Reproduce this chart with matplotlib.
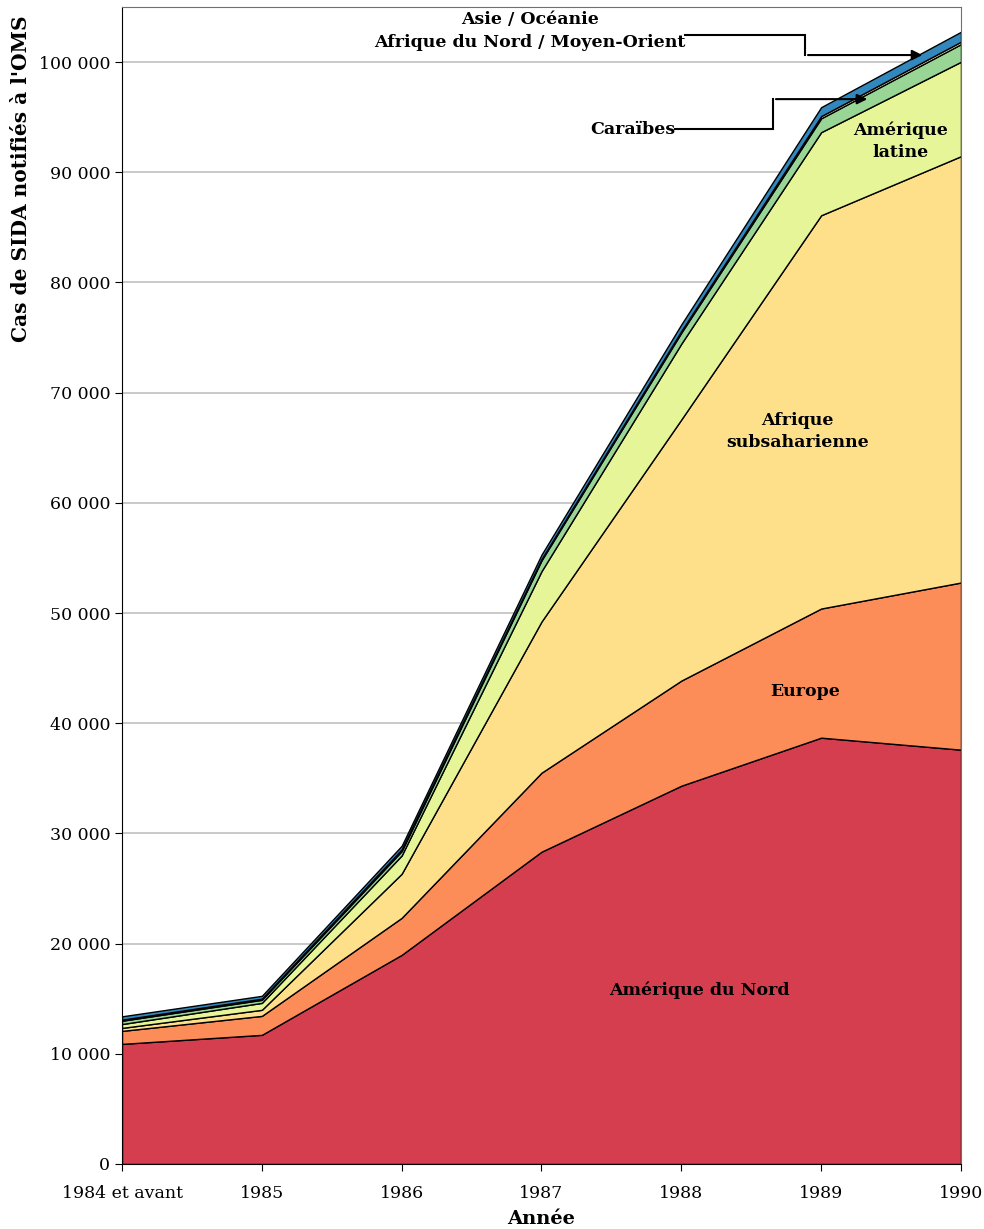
import matplotlib
matplotlib.use("Agg")
import matplotlib.pyplot as plt
from matplotlib.ticker import FuncFormatter

years = ["1984 et avant", "1985", "1986", "1987", "1988", "1989", "1990"]

amerique_nord = [10900, 11720, 18980, 28340, 34330, 38690, 37600]
europe = [1180, 1720, 3360, 7170, 9540, 11720, 15170]
afrique_subsaharienne = [270, 550, 4000, 13720, 23700, 35690, 38690]
amerique_latine = [350, 630, 1660, 4570, 6880, 7540, 8570]
caraibes = [300, 280, 400, 980, 1000, 1260, 1600]
afrique_nord_moyen_orient = [100, 100, 150, 120, 150, 200, 220]
asie_oceanie = [300, 260, 330, 400, 600, 810, 900]

series = [amerique_nord, europe, afrique_subsaharienne, amerique_latine,
          caraibes, afrique_nord_moyen_orient, asie_oceanie]
colors = ["#d53e4f", "#fc8d59", "#fee08b", "#e6f598", "#99d594", "#ffffbf", "#3288bd"]

plt.rcParams["font.family"] = ["DejaVu Serif"]

fig = plt.figure(figsize=(9.84, 12.29), dpi=100)
ax = fig.add_axes([0.124, 0.0529, 0.8526, 0.9414])

x = list(range(len(years)))
ax.stackplot(x, *series, colors=colors, edgecolor="black", linewidth=1.0, zorder=2)

ax.set_xlim(0, len(years) - 1)
ax.set_ylim(0, 105000)
ax.set_yticks(range(0, 100001, 10000))
ax.yaxis.set_major_formatter(FuncFormatter(lambda v, p: f"{int(v):,}".replace(",", " ")))
ax.set_xticks(x)
ax.set_xticklabels(years)
ax.grid(axis="y", color="#c0c0c0", linewidth=1.2, zorder=0)
ax.set_axisbelow(True)
ax.tick_params(labelsize=12.5, length=5, direction="out")
ax.tick_params(axis="x", pad=10)

for side in ["top", "right"]:
    ax.spines[side].set_color("#707070")
for side in ["left", "bottom"]:
    ax.spines[side].set_color("black")

ax.set_xlabel("Année", fontsize=14, fontweight="bold", labelpad=6)
ax.set_ylabel("Cas de SIDA notifiés à l'OMS", fontsize=14.5, fontweight="bold")
ax.yaxis.set_label_coords(-0.108, 0.852)

bold = dict(fontsize=12.5, fontweight="bold", ha="center", va="center", zorder=5)
ax.text(4.13, 15800, "Amérique du Nord", **bold)
ax.text(4.885, 42870, "Europe", **bold)
ax.text(4.83, 66490, "Afrique\nsubsaharienne", linespacing=1.4, **bold)
ax.text(5.565, 92830, "Amérique\nlatine", linespacing=1.4, **bold)

ax.text(3.956, 93920, "Caraïbes", fontsize=12.5, fontweight="bold", ha="right", va="center")
ax.plot([3.956, 4.657, 4.657], [93920, 93920, 96640], color="black", lw=1.5,
        solid_joinstyle="miter", zorder=5)
ax.annotate("", xy=(5.35, 96640), xytext=(4.657, 96640),
            arrowprops=dict(arrowstyle="-|>", color="black", lw=1.5, mutation_scale=15),
            zorder=5)

ax.text(2.92, 102820, "Asie / Océanie\nAfrique du Nord / Moyen-Orient", fontsize=12.5,
        fontweight="bold", ha="center", va="center", linespacing=1.5, clip_on=False)
ax.plot([4.027, 4.886, 4.886], [102450, 102450, 100640], color="black", lw=1.5,
        solid_joinstyle="miter", zorder=5)
ax.annotate("", xy=(5.744, 100640), xytext=(4.886, 100640),
            arrowprops=dict(arrowstyle="-|>", color="black", lw=1.5, mutation_scale=15),
            zorder=5)

fig.savefig("out.png", dpi=100, facecolor="white")
